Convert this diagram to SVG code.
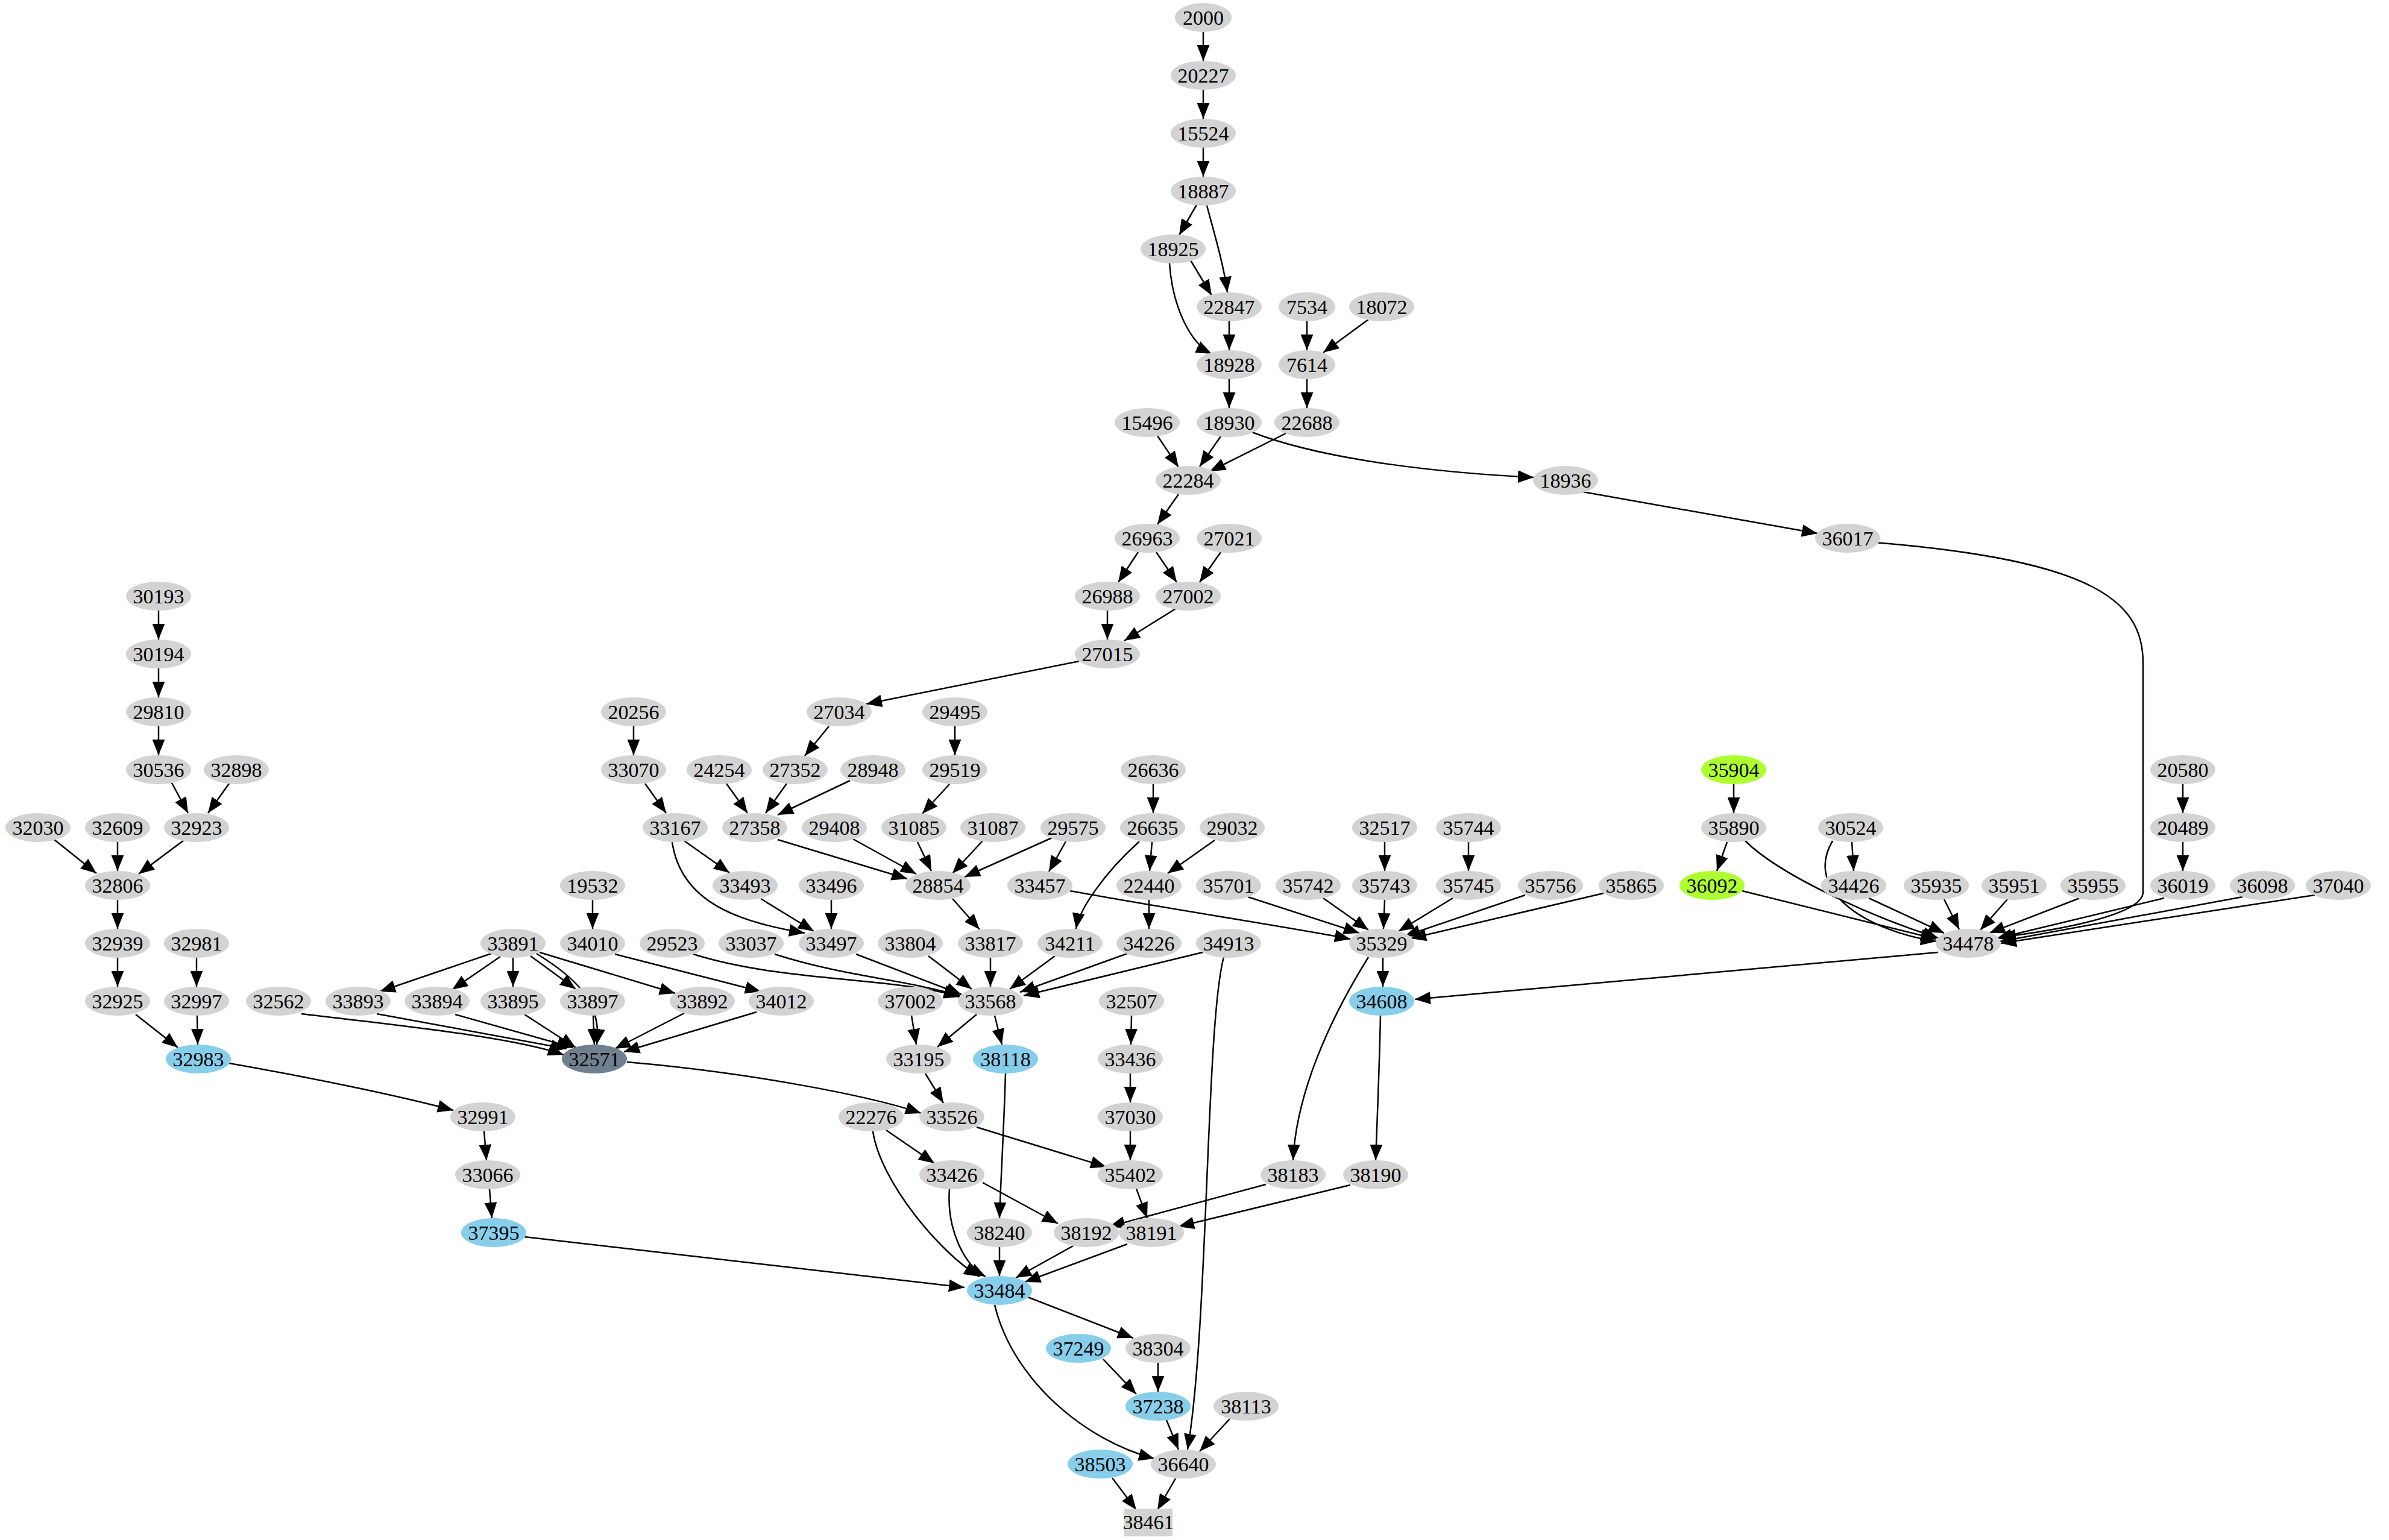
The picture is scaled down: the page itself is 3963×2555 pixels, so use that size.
<svg xmlns="http://www.w3.org/2000/svg" width="3963" height="2555" viewBox="0 0 3963 2555">
<style>
.n{fill:#d3d3d3}.b{fill:#87ceeb}.g{fill:#adff2f}.d{fill:#708090}
text{font-family:"Liberation Serif","DejaVu Serif",serif;font-size:34px;text-anchor:middle;fill:#000}
#edges path{fill:none;stroke:#000;stroke-width:2.5;marker-end:url(#a)}
</style>
<defs><marker id="a" viewBox="0 0 10 8" markerWidth="26" markerHeight="21" refX="10" refY="4" orient="auto" markerUnits="userSpaceOnUse"><path d="M0,0 L10,4 L0,8 z" fill="#000"/></marker></defs>
<rect width="3963" height="2555" fill="#fff"/>
<g id="edges">
<path d="M1996,53 L1996,101"/><path d="M1996,149 L1996,197"/><path d="M1996,245 L1996,293"/>
<path d="M1985,340 L1956,390"/><path d="M2002,341 C2015,390 2030,440 2036,485"/><path d="M1975,432 L2010,490"/>
<path d="M1940,437 C1945,510 1975,570 2010,587"/><path d="M2039,533 L2039,581"/><path d="M2168,533 L2168,581"/>
<path d="M2270,530 L2195,585"/><path d="M2039,629 L2039,677"/><path d="M2168,629 L2168,677"/>
<path d="M1920,723 L1955,775"/><path d="M2025,724 L1990,774"/><path d="M2133,719 L2007,782"/>
<path d="M2077,717 C2200,765 2400,785 2544,792"/><path d="M1955,820 L1920,870"/><path d="M2620,815 L3015,885"/>
<path d="M1888,916 L1855,966"/><path d="M1918,916 L1952,966"/><path d="M2025,916 L1990,966"/>
<path d="M1837,1013 L1837,1061"/><path d="M1950,1010 L1865,1063"/><path d="M1790,1097 L1437,1168"/>
<path d="M263,1013 L263,1061"/><path d="M263,1109 L263,1157"/><path d="M263,1205 L263,1253"/>
<path d="M285,1299 L312,1349"/><path d="M380,1300 L345,1349"/><path d="M90,1393 L160,1449"/>
<path d="M195,1397 L195,1445"/><path d="M305,1394 L230,1450"/><path d="M195,1493 L195,1541"/>
<path d="M195,1589 L195,1637"/><path d="M326,1589 L326,1637"/><path d="M225,1683 L295,1738"/>
<path d="M327,1685 L328,1733"/><path d="M380,1764 C500,1785 650,1815 752,1842"/><path d="M803,1877 L807,1925"/>
<path d="M812,1973 L816,2021"/><path d="M870,2052 L1600,2136"/><path d="M1051,1205 L1051,1253"/>
<path d="M1070,1300 L1105,1349"/><path d="M1375,1205 L1335,1254"/><path d="M1205,1300 L1240,1349"/>
<path d="M1305,1300 L1270,1349"/><path d="M1410,1295 L1290,1352"/><path d="M1584,1205 L1584,1253"/>
<path d="M1575,1301 L1530,1350"/><path d="M1290,1393 L1505,1458"/><path d="M1522,1397 L1545,1445"/>
<path d="M1415,1392 L1520,1450"/><path d="M1630,1395 L1580,1449"/><path d="M1745,1390 L1600,1455"/>
<path d="M1768,1396 L1740,1446"/><path d="M1135,1395 L1210,1448"/><path d="M1115,1397 C1130,1500 1230,1530 1335,1548"/>
<path d="M1262,1491 L1350,1545"/><path d="M1379,1493 L1379,1541"/><path d="M1580,1491 L1625,1542"/>
<path d="M983,1493 L983,1541"/><path d="M1020,1583 L1262,1645"/><path d="M1150,1583 C1300,1630 1480,1620 1592,1654"/>
<path d="M1285,1583 C1400,1620 1500,1625 1592,1652"/><path d="M1420,1583 L1595,1650"/><path d="M1540,1586 L1612,1641"/>
<path d="M1643,1589 L1643,1637"/><path d="M1750,1586 L1675,1641"/><path d="M1870,1582 L1692,1646"/>
<path d="M1995,1580 L1698,1652"/><path d="M1913,1301 L1913,1349"/><path d="M1911,1397 L1907,1445"/>
<path d="M2015,1394 L1937,1449"/><path d="M1890,1396 C1830,1450 1790,1510 1785,1541"/><path d="M1906,1493 L1906,1541"/>
<path d="M815,1582 L630,1645"/><path d="M830,1587 L750,1642"/><path d="M851,1589 L851,1637"/>
<path d="M880,1586 L955,1641"/><path d="M895,1580 L1120,1648"/><path d="M890,1582 C950,1620 1000,1660 990,1733"/>
<path d="M500,1682 C650,1700 850,1720 935,1750"/><path d="M625,1682 L940,1740"/><path d="M755,1683 L950,1738"/>
<path d="M870,1683 L955,1738"/><path d="M984,1685 L986,1733"/><path d="M1135,1681 L1020,1740"/>
<path d="M1255,1679 L1035,1745"/><path d="M1040,1762 C1250,1780 1450,1820 1528,1847"/><path d="M1620,1683 L1555,1737"/>
<path d="M1650,1685 L1662,1733"/><path d="M1512,1685 L1520,1733"/><path d="M1535,1781 L1565,1830"/>
<path d="M1620,1870 L1835,1936"/><path d="M1877,1685 L1876,1733"/><path d="M1875,1781 L1875,1829"/>
<path d="M1875,1877 L1875,1925"/><path d="M1885,1972 L1903,2021"/><path d="M1668,1781 C1665,1880 1660,1960 1658,2021"/>
<path d="M1470,1875 L1550,1930"/><path d="M1448,1877 C1460,1960 1560,2080 1625,2118"/><path d="M1575,1973 C1570,2040 1600,2100 1635,2118"/>
<path d="M1630,1962 L1755,2030"/><path d="M1658,2069 L1658,2117"/><path d="M1780,2067 L1685,2120"/>
<path d="M1870,2064 L1700,2127"/><path d="M2100,1965 L1840,2035"/><path d="M2240,1966 L1955,2035"/>
<path d="M2290,1685 C2288,1780 2284,1870 2282,1925"/><path d="M2270,1588 C2200,1700 2150,1820 2145,1925"/><path d="M3215,1580 L2347,1658"/>
<path d="M2294,1589 L2294,1637"/><path d="M1775,1478 C1950,1510 2150,1540 2240,1558"/><path d="M2070,1488 L2255,1548"/>
<path d="M2195,1490 L2270,1543"/><path d="M2297,1493 L2295,1541"/><path d="M2297,1397 L2297,1445"/>
<path d="M2436,1397 L2436,1445"/><path d="M2410,1490 L2320,1545"/><path d="M2530,1485 L2330,1553"/>
<path d="M2660,1482 L2340,1557"/><path d="M2876,1301 L2876,1349"/><path d="M2865,1397 L2848,1445"/>
<path d="M2895,1395 C2950,1450 3100,1520 3215,1556"/><path d="M3072,1397 L3075,1445"/><path d="M3040,1395 C2990,1480 3100,1545 3212,1562"/>
<path d="M3100,1490 L3225,1548"/><path d="M2890,1478 L3212,1558"/><path d="M3225,1492 L3250,1542"/>
<path d="M3330,1492 L3285,1543"/><path d="M3450,1490 L3300,1548"/><path d="M3590,1490 L3312,1557"/>
<path d="M3720,1488 L3318,1562"/><path d="M3840,1485 L3319,1565"/><path d="M3621,1301 L3621,1349"/>
<path d="M3621,1397 L3621,1445"/><path d="M3110,900 C3480,930 3555,1000 3555,1100 L3555,1480 C3555,1520 3400,1545 3318,1555"/>
<path d="M1705,2152 L1880,2220"/><path d="M1650,2165 C1680,2290 1800,2390 1915,2420"/><path d="M1921,2261 L1921,2309"/>
<path d="M1830,2255 L1885,2313"/><path d="M1935,2356 L1955,2405"/><path d="M2040,2354 L1990,2408"/>
<path d="M2030,1588 C2000,1700 2005,2200 1970,2405"/><path d="M1845,2452 L1885,2505"/><path d="M1950,2453 L1920,2505"/>
</g>
<g id="n2000"><ellipse class="n" cx="1996" cy="29" rx="47" ry="24"/><text x="1996" y="41">2000</text></g>
<g id="n20227"><ellipse class="n" cx="1996" cy="125" rx="54" ry="24"/><text x="1996" y="137">20227</text></g>
<g id="n15524"><ellipse class="n" cx="1996" cy="221" rx="54" ry="24"/><text x="1996" y="233">15524</text></g>
<g id="n18887"><ellipse class="n" cx="1996" cy="317" rx="54" ry="24"/><text x="1996" y="329">18887</text></g>
<g id="n18925"><ellipse class="n" cx="1946" cy="413" rx="54" ry="24"/><text x="1946" y="425">18925</text></g>
<g id="n22847"><ellipse class="n" cx="2039" cy="509" rx="54" ry="24"/><text x="2039" y="521">22847</text></g>
<g id="n7534"><ellipse class="n" cx="2168" cy="509" rx="47" ry="24"/><text x="2168" y="521">7534</text></g>
<g id="n18072"><ellipse class="n" cx="2292" cy="509" rx="54" ry="24"/><text x="2292" y="521">18072</text></g>
<g id="n18928"><ellipse class="n" cx="2039" cy="605" rx="54" ry="24"/><text x="2039" y="617">18928</text></g>
<g id="n7614"><ellipse class="n" cx="2168" cy="605" rx="47" ry="24"/><text x="2168" y="617">7614</text></g>
<g id="n15496"><ellipse class="n" cx="1903" cy="701" rx="54" ry="24"/><text x="1903" y="713">15496</text></g>
<g id="n18930"><ellipse class="n" cx="2039" cy="701" rx="54" ry="24"/><text x="2039" y="713">18930</text></g>
<g id="n22688"><ellipse class="n" cx="2168" cy="701" rx="54" ry="24"/><text x="2168" y="713">22688</text></g>
<g id="n22284"><ellipse class="n" cx="1971" cy="797" rx="54" ry="24"/><text x="1971" y="809">22284</text></g>
<g id="n18936"><ellipse class="n" cx="2597" cy="797" rx="54" ry="24"/><text x="2597" y="809">18936</text></g>
<g id="n26963"><ellipse class="n" cx="1903" cy="893" rx="54" ry="24"/><text x="1903" y="905">26963</text></g>
<g id="n27021"><ellipse class="n" cx="2039" cy="893" rx="54" ry="24"/><text x="2039" y="905">27021</text></g>
<g id="n36017"><ellipse class="n" cx="3065" cy="893" rx="54" ry="24"/><text x="3065" y="905">36017</text></g>
<g id="n30193"><ellipse class="n" cx="263" cy="989" rx="54" ry="24"/><text x="263" y="1001">30193</text></g>
<g id="n26988"><ellipse class="n" cx="1837" cy="989" rx="54" ry="24"/><text x="1837" y="1001">26988</text></g>
<g id="n27002"><ellipse class="n" cx="1971" cy="989" rx="54" ry="24"/><text x="1971" y="1001">27002</text></g>
<g id="n30194"><ellipse class="n" cx="263" cy="1085" rx="54" ry="24"/><text x="263" y="1097">30194</text></g>
<g id="n27015"><ellipse class="n" cx="1837" cy="1085" rx="54" ry="24"/><text x="1837" y="1097">27015</text></g>
<g id="n29810"><ellipse class="n" cx="263" cy="1181" rx="54" ry="24"/><text x="263" y="1193">29810</text></g>
<g id="n20256"><ellipse class="n" cx="1051" cy="1181" rx="54" ry="24"/><text x="1051" y="1193">20256</text></g>
<g id="n27034"><ellipse class="n" cx="1392" cy="1181" rx="54" ry="24"/><text x="1392" y="1193">27034</text></g>
<g id="n29495"><ellipse class="n" cx="1584" cy="1181" rx="54" ry="24"/><text x="1584" y="1193">29495</text></g>
<g id="n30536"><ellipse class="n" cx="263" cy="1277" rx="54" ry="24"/><text x="263" y="1289">30536</text></g>
<g id="n32898"><ellipse class="n" cx="392" cy="1277" rx="54" ry="24"/><text x="392" y="1289">32898</text></g>
<g id="n33070"><ellipse class="n" cx="1051" cy="1277" rx="54" ry="24"/><text x="1051" y="1289">33070</text></g>
<g id="n24254"><ellipse class="n" cx="1193" cy="1277" rx="54" ry="24"/><text x="1193" y="1289">24254</text></g>
<g id="n27352"><ellipse class="n" cx="1319" cy="1277" rx="54" ry="24"/><text x="1319" y="1289">27352</text></g>
<g id="n28948"><ellipse class="n" cx="1448" cy="1277" rx="54" ry="24"/><text x="1448" y="1289">28948</text></g>
<g id="n29519"><ellipse class="n" cx="1584" cy="1277" rx="54" ry="24"/><text x="1584" y="1289">29519</text></g>
<g id="n26636"><ellipse class="n" cx="1913" cy="1277" rx="54" ry="24"/><text x="1913" y="1289">26636</text></g>
<g id="n35904"><ellipse class="g" cx="2876" cy="1277" rx="54" ry="24"/><text x="2876" y="1289">35904</text></g>
<g id="n20580"><ellipse class="n" cx="3621" cy="1277" rx="54" ry="24"/><text x="3621" y="1289">20580</text></g>
<g id="n32030"><ellipse class="n" cx="63" cy="1373" rx="54" ry="24"/><text x="63" y="1385">32030</text></g>
<g id="n32609"><ellipse class="n" cx="195" cy="1373" rx="54" ry="24"/><text x="195" y="1385">32609</text></g>
<g id="n32923"><ellipse class="n" cx="326" cy="1373" rx="54" ry="24"/><text x="326" y="1385">32923</text></g>
<g id="n33167"><ellipse class="n" cx="1120" cy="1373" rx="54" ry="24"/><text x="1120" y="1385">33167</text></g>
<g id="n27358"><ellipse class="n" cx="1252" cy="1373" rx="54" ry="24"/><text x="1252" y="1385">27358</text></g>
<g id="n29408"><ellipse class="n" cx="1384" cy="1373" rx="54" ry="24"/><text x="1384" y="1385">29408</text></g>
<g id="n31085"><ellipse class="n" cx="1516" cy="1373" rx="54" ry="24"/><text x="1516" y="1385">31085</text></g>
<g id="n31087"><ellipse class="n" cx="1647" cy="1373" rx="54" ry="24"/><text x="1647" y="1385">31087</text></g>
<g id="n29575"><ellipse class="n" cx="1780" cy="1373" rx="54" ry="24"/><text x="1780" y="1385">29575</text></g>
<g id="n26635"><ellipse class="n" cx="1912" cy="1373" rx="54" ry="24"/><text x="1912" y="1385">26635</text></g>
<g id="n29032"><ellipse class="n" cx="2044" cy="1373" rx="54" ry="24"/><text x="2044" y="1385">29032</text></g>
<g id="n32517"><ellipse class="n" cx="2297" cy="1373" rx="54" ry="24"/><text x="2297" y="1385">32517</text></g>
<g id="n35744"><ellipse class="n" cx="2436" cy="1373" rx="54" ry="24"/><text x="2436" y="1385">35744</text></g>
<g id="n35890"><ellipse class="n" cx="2876" cy="1373" rx="54" ry="24"/><text x="2876" y="1385">35890</text></g>
<g id="n30524"><ellipse class="n" cx="3070" cy="1373" rx="54" ry="24"/><text x="3070" y="1385">30524</text></g>
<g id="n20489"><ellipse class="n" cx="3621" cy="1373" rx="54" ry="24"/><text x="3621" y="1385">20489</text></g>
<g id="n32806"><ellipse class="n" cx="195" cy="1469" rx="54" ry="24"/><text x="195" y="1481">32806</text></g>
<g id="n19532"><ellipse class="n" cx="983" cy="1469" rx="54" ry="24"/><text x="983" y="1481">19532</text></g>
<g id="n33493"><ellipse class="n" cx="1236" cy="1469" rx="54" ry="24"/><text x="1236" y="1481">33493</text></g>
<g id="n33496"><ellipse class="n" cx="1379" cy="1469" rx="54" ry="24"/><text x="1379" y="1481">33496</text></g>
<g id="n28854"><ellipse class="n" cx="1556" cy="1469" rx="54" ry="24"/><text x="1556" y="1481">28854</text></g>
<g id="n33457"><ellipse class="n" cx="1725" cy="1469" rx="54" ry="24"/><text x="1725" y="1481">33457</text></g>
<g id="n22440"><ellipse class="n" cx="1906" cy="1469" rx="54" ry="24"/><text x="1906" y="1481">22440</text></g>
<g id="n35701"><ellipse class="n" cx="2038" cy="1469" rx="54" ry="24"/><text x="2038" y="1481">35701</text></g>
<g id="n35742"><ellipse class="n" cx="2170" cy="1469" rx="54" ry="24"/><text x="2170" y="1481">35742</text></g>
<g id="n35743"><ellipse class="n" cx="2297" cy="1469" rx="54" ry="24"/><text x="2297" y="1481">35743</text></g>
<g id="n35745"><ellipse class="n" cx="2436" cy="1469" rx="54" ry="24"/><text x="2436" y="1481">35745</text></g>
<g id="n35756"><ellipse class="n" cx="2572" cy="1469" rx="54" ry="24"/><text x="2572" y="1481">35756</text></g>
<g id="n35865"><ellipse class="n" cx="2706" cy="1469" rx="54" ry="24"/><text x="2706" y="1481">35865</text></g>
<g id="n36092"><ellipse class="g" cx="2840" cy="1469" rx="54" ry="24"/><text x="2840" y="1481">36092</text></g>
<g id="n34426"><ellipse class="n" cx="3075" cy="1469" rx="54" ry="24"/><text x="3075" y="1481">34426</text></g>
<g id="n35935"><ellipse class="n" cx="3212" cy="1469" rx="54" ry="24"/><text x="3212" y="1481">35935</text></g>
<g id="n35951"><ellipse class="n" cx="3341" cy="1469" rx="54" ry="24"/><text x="3341" y="1481">35951</text></g>
<g id="n35955"><ellipse class="n" cx="3472" cy="1469" rx="54" ry="24"/><text x="3472" y="1481">35955</text></g>
<g id="n36019"><ellipse class="n" cx="3621" cy="1469" rx="54" ry="24"/><text x="3621" y="1481">36019</text></g>
<g id="n36098"><ellipse class="n" cx="3753" cy="1469" rx="54" ry="24"/><text x="3753" y="1481">36098</text></g>
<g id="n37040"><ellipse class="n" cx="3879" cy="1469" rx="54" ry="24"/><text x="3879" y="1481">37040</text></g>
<g id="n32939"><ellipse class="n" cx="195" cy="1565" rx="54" ry="24"/><text x="195" y="1577">32939</text></g>
<g id="n32981"><ellipse class="n" cx="326" cy="1565" rx="54" ry="24"/><text x="326" y="1577">32981</text></g>
<g id="n33891"><ellipse class="n" cx="851" cy="1565" rx="54" ry="24"/><text x="851" y="1577">33891</text></g>
<g id="n34010"><ellipse class="n" cx="983" cy="1565" rx="54" ry="24"/><text x="983" y="1577">34010</text></g>
<g id="n29523"><ellipse class="n" cx="1115" cy="1565" rx="54" ry="24"/><text x="1115" y="1577">29523</text></g>
<g id="n33037"><ellipse class="n" cx="1246" cy="1565" rx="54" ry="24"/><text x="1246" y="1577">33037</text></g>
<g id="n33497"><ellipse class="n" cx="1379" cy="1565" rx="54" ry="24"/><text x="1379" y="1577">33497</text></g>
<g id="n33804"><ellipse class="n" cx="1510" cy="1565" rx="54" ry="24"/><text x="1510" y="1577">33804</text></g>
<g id="n33817"><ellipse class="n" cx="1643" cy="1565" rx="54" ry="24"/><text x="1643" y="1577">33817</text></g>
<g id="n34211"><ellipse class="n" cx="1775" cy="1565" rx="54" ry="24"/><text x="1775" y="1577">34211</text></g>
<g id="n34226"><ellipse class="n" cx="1906" cy="1565" rx="54" ry="24"/><text x="1906" y="1577">34226</text></g>
<g id="n34913"><ellipse class="n" cx="2038" cy="1565" rx="54" ry="24"/><text x="2038" y="1577">34913</text></g>
<g id="n35329"><ellipse class="n" cx="2292" cy="1565" rx="54" ry="24"/><text x="2292" y="1577">35329</text></g>
<g id="n34478"><ellipse class="n" cx="3265" cy="1565" rx="54" ry="24"/><text x="3265" y="1577">34478</text></g>
<g id="n32925"><ellipse class="n" cx="195" cy="1661" rx="54" ry="24"/><text x="195" y="1673">32925</text></g>
<g id="n32997"><ellipse class="n" cx="326" cy="1661" rx="54" ry="24"/><text x="326" y="1673">32997</text></g>
<g id="n32562"><ellipse class="n" cx="462" cy="1661" rx="54" ry="24"/><text x="462" y="1673">32562</text></g>
<g id="n33893"><ellipse class="n" cx="594" cy="1661" rx="54" ry="24"/><text x="594" y="1673">33893</text></g>
<g id="n33894"><ellipse class="n" cx="725" cy="1661" rx="54" ry="24"/><text x="725" y="1673">33894</text></g>
<g id="n33895"><ellipse class="n" cx="851" cy="1661" rx="54" ry="24"/><text x="851" y="1673">33895</text></g>
<g id="n33897"><ellipse class="n" cx="983" cy="1661" rx="54" ry="24"/><text x="983" y="1673">33897</text></g>
<g id="n33892"><ellipse class="n" cx="1165" cy="1661" rx="54" ry="24"/><text x="1165" y="1673">33892</text></g>
<g id="n34012"><ellipse class="n" cx="1296" cy="1661" rx="54" ry="24"/><text x="1296" y="1673">34012</text></g>
<g id="n37002"><ellipse class="n" cx="1510" cy="1661" rx="54" ry="24"/><text x="1510" y="1673">37002</text></g>
<g id="n33568"><ellipse class="n" cx="1643" cy="1661" rx="54" ry="24"/><text x="1643" y="1673">33568</text></g>
<g id="n32507"><ellipse class="n" cx="1877" cy="1661" rx="54" ry="24"/><text x="1877" y="1673">32507</text></g>
<g id="n34608"><ellipse class="b" cx="2292" cy="1661" rx="54" ry="24"/><text x="2292" y="1673">34608</text></g>
<g id="n32983"><ellipse class="b" cx="329" cy="1757" rx="54" ry="24"/><text x="329" y="1769">32983</text></g>
<g id="n32571"><ellipse class="d" cx="986" cy="1757" rx="54" ry="24"/><text x="986" y="1769">32571</text></g>
<g id="n33195"><ellipse class="n" cx="1524" cy="1757" rx="54" ry="24"/><text x="1524" y="1769">33195</text></g>
<g id="n38118"><ellipse class="b" cx="1668" cy="1757" rx="54" ry="24"/><text x="1668" y="1769">38118</text></g>
<g id="n33436"><ellipse class="n" cx="1875" cy="1757" rx="54" ry="24"/><text x="1875" y="1769">33436</text></g>
<g id="n32991"><ellipse class="n" cx="801" cy="1853" rx="54" ry="24"/><text x="801" y="1865">32991</text></g>
<g id="n22276"><ellipse class="n" cx="1445" cy="1853" rx="54" ry="24"/><text x="1445" y="1865">22276</text></g>
<g id="n33526"><ellipse class="n" cx="1579" cy="1853" rx="54" ry="24"/><text x="1579" y="1865">33526</text></g>
<g id="n37030"><ellipse class="n" cx="1875" cy="1853" rx="54" ry="24"/><text x="1875" y="1865">37030</text></g>
<g id="n33066"><ellipse class="n" cx="809" cy="1949" rx="54" ry="24"/><text x="809" y="1961">33066</text></g>
<g id="n33426"><ellipse class="n" cx="1579" cy="1949" rx="54" ry="24"/><text x="1579" y="1961">33426</text></g>
<g id="n35402"><ellipse class="n" cx="1875" cy="1949" rx="54" ry="24"/><text x="1875" y="1961">35402</text></g>
<g id="n38183"><ellipse class="n" cx="2145" cy="1949" rx="54" ry="24"/><text x="2145" y="1961">38183</text></g>
<g id="n38190"><ellipse class="n" cx="2282" cy="1949" rx="54" ry="24"/><text x="2282" y="1961">38190</text></g>
<g id="n37395"><ellipse class="b" cx="819" cy="2045" rx="54" ry="24"/><text x="819" y="2057">37395</text></g>
<g id="n38240"><ellipse class="n" cx="1658" cy="2045" rx="54" ry="24"/><text x="1658" y="2057">38240</text></g>
<g id="n38192"><ellipse class="n" cx="1802" cy="2045" rx="54" ry="24"/><text x="1802" y="2057">38192</text></g>
<g id="n38191"><ellipse class="n" cx="1910" cy="2045" rx="54" ry="24"/><text x="1910" y="2057">38191</text></g>
<g id="n33484"><ellipse class="b" cx="1658" cy="2141" rx="54" ry="24"/><text x="1658" y="2153">33484</text></g>
<g id="n37249"><ellipse class="b" cx="1789" cy="2237" rx="54" ry="24"/><text x="1789" y="2249">37249</text></g>
<g id="n38304"><ellipse class="n" cx="1921" cy="2237" rx="54" ry="24"/><text x="1921" y="2249">38304</text></g>
<g id="n37238"><ellipse class="b" cx="1921" cy="2333" rx="54" ry="24"/><text x="1921" y="2345">37238</text></g>
<g id="n38113"><ellipse class="n" cx="2067" cy="2333" rx="54" ry="24"/><text x="2067" y="2345">38113</text></g>
<g id="n38503"><ellipse class="b" cx="1825" cy="2429" rx="54" ry="24"/><text x="1825" y="2441">38503</text></g>
<g id="n36640"><ellipse class="n" cx="1963" cy="2429" rx="54" ry="24"/><text x="1963" y="2441">36640</text></g>
<g id="n38461"><rect class="n" x="1865" y="2503" width="80" height="46"/><text x="1905" y="2537">38461</text></g>
</svg>
